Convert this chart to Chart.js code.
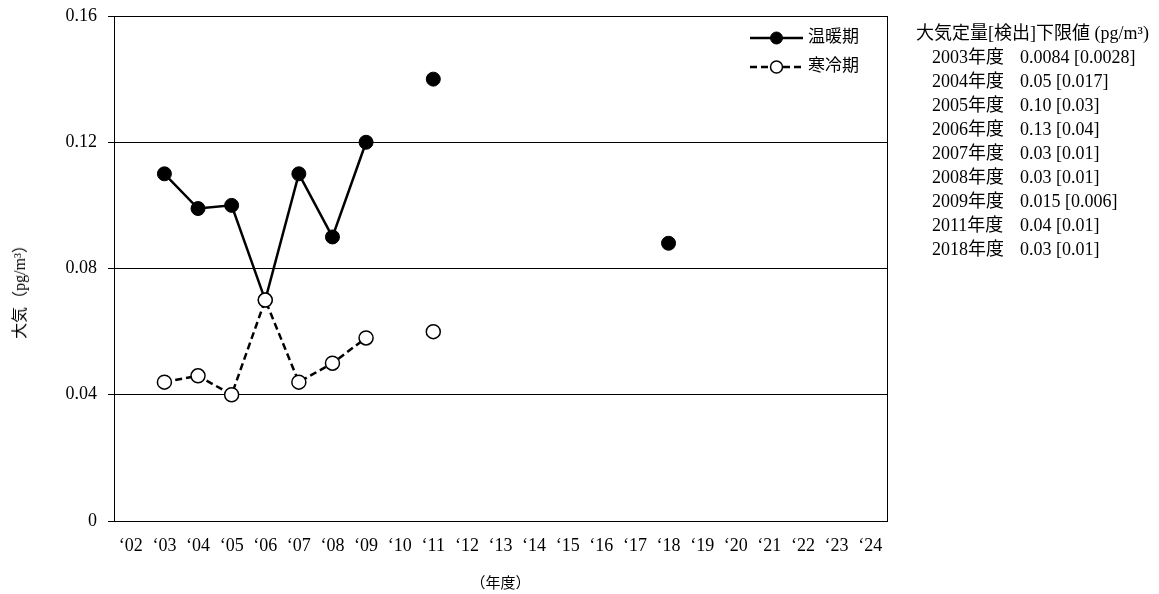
<!DOCTYPE html>
<html lang="ja">
<head>
    <meta charset="UTF-8">
    <title>大気</title>
    <script src="https://cdn.jsdelivr.net/npm/chart.js"></script>
    <style>
        html, body {
            margin: 0;
            padding: 0;
            background: #fff;
        }
        .wrap {
            position: relative;
            width: 1159px;
            height: 594px;
        }
        .limits {
            position: absolute;
            left: 916px;
            top: 21px;
            font-family: "Liberation Serif", "Noto Sans CJK JP", serif;
            font-size: 18px;
            line-height: 24px;
            color: #000;
            white-space: nowrap;
        }
        .limits .row {
            padding-left: 16px;
        }
        .limits .yr {
            display: inline-block;
            width: 88px;
        }
        .ytitle {
            position: absolute;
            left: 18px;
            top: 288px;
            transform: translate(-50%, -50%) rotate(-90deg);
            font-family: "Liberation Serif", "Noto Sans CJK JP", serif;
            font-size: 16px;
            color: #000;
            white-space: nowrap;
        }
    </style>
</head>
<body>
<div class="wrap">
    <canvas id="chart" width="1159" height="594"></canvas>
    <div class="limits" id="limits"></div>
    <div class="ytitle" id="ytitle"></div>
</div>
<script>
    // x axis categories (fiscal years)
    var tickLabels = ['‘02', '‘03', '‘04', '‘05', '‘06', '‘07', '‘08', '‘09', '‘10', '‘11', '‘12',
        '‘13', '‘14', '‘15', '‘16', '‘17', '‘18', '‘19', '‘20', '‘21', '‘22', '‘23', '‘24'];

    // 温暖期 (warm season)
    var warmValues = [null, 0.110, 0.099, 0.100, 0.070, 0.110, 0.090, 0.120, null, 0.140,
        null, null, null, null, null, null, 0.088, null, null, null, null, null, null];

    // 寒冷期 (cold season)
    var coldValues = [null, 0.044, 0.046, 0.040, 0.070, 0.044, 0.050, 0.058, null, 0.060,
        null, null, null, null, null, null, null, null, null, null, null, null, null];

    var yTicks = [0, 0.04, 0.08, 0.12, 0.16];

    // detection limits text on the right
    var limitTitle = '大気定量[検出]下限値 (pg/m³)';
    var limitYears = ['2003年度', '2004年度', '2005年度', '2006年度', '2007年度',
        '2008年度', '2009年度', '2011年度', '2018年度'];
    var limitValues = ['0.0084 [0.0028]', '0.05 [0.017]', '0.10 [0.03]', '0.13 [0.04]',
        '0.03 [0.01]', '0.03 [0.01]', '0.015 [0.006]', '0.04 [0.01]', '0.03 [0.01]'];

    var FONT = '"Liberation Serif", "Noto Sans CJK JP", serif';

    document.getElementById('ytitle').textContent = '大気（pg/m³）';

    // build the limits block
    var box = document.getElementById('limits');
    var t = document.createElement('div');
    t.textContent = limitTitle;
    box.appendChild(t);
    limitYears.forEach(function (y, i) {
        var row = document.createElement('div');
        row.className = 'row';
        var a = document.createElement('span');
        a.className = 'yr';
        a.textContent = y;
        var b = document.createElement('span');
        b.textContent = limitValues[i];
        row.appendChild(a);
        row.appendChild(b);
        box.appendChild(row);
    });

    // frame around plot area + legend inside it
    var framePlugin = {
        id: 'frame',
        afterDatasetsDraw: function (chart) {
            var ctx = chart.ctx;
            var a = chart.chartArea;
            ctx.save();
            ctx.strokeStyle = '#000';
            ctx.lineWidth = 1;
            ctx.strokeRect(a.left + 0.5, a.top + 0.5, a.right - a.left, a.bottom - a.top);

            // legend
            var items = chart.data.datasets;
            var x0 = a.right - 137, x1 = a.right - 84;
            items.forEach(function (ds, i) {
                var y = a.top + 22 + i * 29;
                ctx.beginPath();
                ctx.setLineDash(ds.borderDash || []);
                ctx.lineWidth = ds.borderWidth;
                ctx.strokeStyle = ds.borderColor;
                ctx.moveTo(x0, y);
                ctx.lineTo(x1, y);
                ctx.stroke();
                ctx.setLineDash([]);
                ctx.beginPath();
                ctx.arc((x0 + x1) / 2, y, 6, 0, Math.PI * 2);
                ctx.fillStyle = ds.pointBackgroundColor;
                ctx.fill();
                ctx.lineWidth = ds.pointBorderWidth;
                ctx.strokeStyle = ds.pointBorderColor;
                ctx.stroke();
                ctx.fillStyle = '#000';
                ctx.font = '17px ' + FONT;
                ctx.textBaseline = 'middle';
                ctx.textAlign = 'left';
                ctx.fillText(ds.label, x1 + 5, y);
            });
            ctx.restore();
        }
    };

    var ctx = document.getElementById('chart').getContext('2d');
    var chart = new Chart(ctx, {
        type: 'line',
        data: {
            labels: tickLabels,
            datasets: [{
                label: '温暖期',
                data: warmValues,
                borderColor: '#000',
                borderWidth: 2.5,
                pointRadius: 7,
                pointBackgroundColor: '#000',
                pointBorderColor: '#000',
                pointBorderWidth: 1,
                spanGaps: false,
                order: 2
            }, {
                label: '寒冷期',
                data: coldValues,
                borderColor: '#000',
                borderWidth: 2.5,
                borderDash: [7, 4],
                pointRadius: 7,
                pointBackgroundColor: '#fff',
                pointBorderColor: '#000',
                pointBorderWidth: 1.5,
                spanGaps: false,
                order: 1
            }]
        },
        options: {
            responsive: false,
            animation: false,
            layout: {
                padding: { left: 0, top: 16, right: 272, bottom: 0 }
            },
            plugins: {
                legend: { display: false },
                tooltip: { enabled: false }
            },
            scales: {
                x: {
                    offset: true,
                    grid: { display: false, drawTicks: false },
                    border: { display: true, color: '#000', width: 1 },
                    ticks: {
                        color: '#000',
                        font: { family: FONT, size: 18 },
                        padding: 14,
                        maxRotation: 0,
                        autoSkip: false
                    },
                    title: {
                        display: true,
                        text: '（年度）',
                        color: '#000',
                        font: { family: FONT, size: 15 },
                        padding: { top: 0, bottom: 1 }
                    },
                    afterFit: function (scale) { scale.height = 73; }
                },
                y: {
                    min: 0,
                    max: 0.16,
                    afterBuildTicks: function (scale) {
                        scale.ticks = yTicks.map(function (v) { return { value: v }; });
                    },
                    grid: {
                        color: '#000',
                        lineWidth: 1,
                        drawTicks: true,
                        tickLength: 6
                    },
                    border: { display: true, color: '#000', width: 1 },
                    ticks: {
                        color: '#000',
                        font: { family: FONT, size: 18 },
                        padding: 11,
                        callback: function (v) { return v === 0 ? '0' : v.toFixed(2); }
                    },
                    afterFit: function (scale) {
                        scale.width = 114;
                        scale.paddingTop = 0;
                        scale.paddingBottom = 0;
                    }
                }
            }
        },
        plugins: [framePlugin]
    });
</script>
</body>
</html>
